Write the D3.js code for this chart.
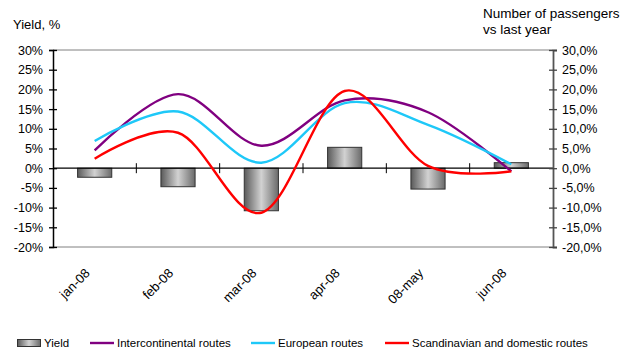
<!DOCTYPE html>
<html>
<head>
<meta charset="utf-8">
<script src="https://cdn.jsdelivr.net/npm/d3@7"></script>
<style>
  html, body { margin: 0; padding: 0; background: #fff; }
  svg { display: block; font-family: "Liberation Sans", Arial, sans-serif; }
</style>
</head>
<body>
<svg id="chart" width="624" height="353"></svg>
<script>
// Months on the x axis
const months = ["jan-08", "feb-08", "mar-08", "apr-08", "08-may", "jun-08"];
// Yield change, % (bars, left axis)
const yieldValues = [-2.3, -4.7, -10.8, 5.3, -5.3, 1.4];
// Passenger growth vs last year, % (lines, right axis)
const intercontinental = [4.5, 18.8, 5.7, 17.2, 14.2, -0.8];
const european = [6.9, 14.4, 1.4, 16.5, 11.0, 1.0];
const scandinavian = [2.4, 9.0, -11.3, 19.6, 0.6, -0.8];
// Axis ticks
const leftTicks = [30, 25, 20, 15, 10, 5, 0, -5, -10, -15, -20];
const rightTicks = [30, 25, 20, 15, 10, 5, 0, -5, -10, -15, -20];

const svg = d3.select("#chart");
const plotLeft = 53, plotRight = 553, plotTop = 50, plotBottom = 247;

const x = d3.scaleBand().domain(months).range([plotLeft, plotRight]).padding(0);
const yL = d3.scaleLinear().domain([-20, 30]).range([plotBottom, plotTop]);
const yR = d3.scaleLinear().domain([-20, 30]).range([plotBottom, plotTop]);

// Bar gradient: dark edges, light centre
const defs = svg.append("defs");
const grad = defs.append("linearGradient").attr("id", "barGrad")
  .attr("x1", "0%").attr("x2", "100%").attr("y1", "0%").attr("y2", "0%");
grad.append("stop").attr("offset", "0%").attr("stop-color", "#5a5a5a");
grad.append("stop").attr("offset", "50%").attr("stop-color", "#d2d2d2");
grad.append("stop").attr("offset", "100%").attr("stop-color", "#6a6a6a");

// Plot frame lines (top and bottom)
svg.append("line").attr("x1", plotLeft).attr("x2", plotRight).attr("y1", yL(30)).attr("y2", yL(30))
  .attr("stroke", "#808080").attr("stroke-width", 1);
svg.append("line").attr("x1", plotLeft).attr("x2", plotRight).attr("y1", yL(-20)).attr("y2", yL(-20))
  .attr("stroke", "#808080").attr("stroke-width", 1);

// Bars
const barW = x.bandwidth() * 0.41;
svg.append("g").selectAll("rect").data(yieldValues).join("rect")
  .attr("x", (d, i) => x(months[i]) + x.bandwidth() / 2 - barW / 2)
  .attr("y", d => yL(Math.max(0, d)))
  .attr("width", barW)
  .attr("height", d => Math.abs(yL(d) - yL(0)))
  .attr("fill", "url(#barGrad)")
  .attr("stroke", "#333")
  .attr("stroke-width", 1);

// Zero line with category separators
svg.append("line").attr("x1", plotLeft).attr("x2", plotRight).attr("y1", yL(0)).attr("y2", yL(0))
  .attr("stroke", "#000").attr("stroke-width", 1.3);
svg.append("g").selectAll("line").data(months.slice(1)).join("line")
  .attr("x1", d => x(d)).attr("x2", d => x(d))
  .attr("y1", yL(0) - 5).attr("y2", yL(0) + 5)
  .attr("stroke", "#000").attr("stroke-width", 1);

// Left axis
const axL = svg.append("g").attr("transform", `translate(${plotLeft},0)`)
  .call(d3.axisLeft(yL).tickValues(leftTicks).tickFormat(d => d + "%").tickSize(4).tickPadding(6));
axL.select(".domain").attr("stroke", "#000").attr("stroke-width", 1.5);
axL.selectAll(".tick line").attr("x1", -4).attr("x2", 4).attr("stroke", "#000").attr("stroke-width", 1.3);
axL.selectAll(".tick text").attr("font-size", 12.5).attr("fill", "#000")
  .attr("font-family", "Liberation Sans, Arial, sans-serif");

// Right axis
const fmtR = d => (d < 0 ? "-" : "") + Math.abs(d).toFixed(1).replace(".", ",") + "%";
const axR = svg.append("g").attr("transform", `translate(${plotRight},0)`)
  .call(d3.axisRight(yR).tickValues(rightTicks).tickFormat(fmtR).tickSize(4).tickPadding(5));
axR.select(".domain").attr("stroke", "#555").attr("stroke-width", 1.8);
axR.selectAll(".tick line").attr("x1", -4).attr("x2", 4).attr("stroke", "#444").attr("stroke-width", 1.3);
axR.selectAll(".tick text").attr("font-size", 12.5).attr("fill", "#000")
  .attr("font-family", "Liberation Sans, Arial, sans-serif");

// Smoothed passenger lines
const line = d3.line()
  .x((d, i) => x(months[i]) + x.bandwidth() / 2)
  .y(d => yR(d))
  .curve(d3.curveCardinal.tension(0));
const series = [
  { values: intercontinental, color: "#800080" },
  { values: european, color: "#1ec8f8" },
  { values: scandinavian, color: "#ff0000" }
];
svg.append("g").selectAll("path").data(series).join("path")
  .attr("d", d => line(d.values))
  .attr("fill", "none")
  .attr("stroke", d => d.color)
  .attr("stroke-width", 2.4)
  .attr("stroke-linejoin", "round");

// X labels, rotated
svg.append("g").selectAll("text").data(months).join("text")
  .attr("transform", d => `translate(${x(d) + x.bandwidth() / 2 - 4},${274}) rotate(-45)`)
  .attr("text-anchor", "end")
  .attr("font-size", 13)
  .attr("fill", "#000")
  .text(d => d);

// Axis titles
svg.append("text").attr("x", 13).attr("y", 29).attr("font-size", 13).attr("fill", "#000").text("Yield, %");
svg.append("text").attr("x", 483).attr("y", 18).attr("font-size", 13.5).attr("fill", "#000").text("Number of passengers");
svg.append("text").attr("x", 483).attr("y", 34).attr("font-size", 13.5).attr("fill", "#000").text("vs last year");

// Legend
const lg = svg.append("g").attr("font-size", 11.5).attr("fill", "#000");
lg.append("rect").attr("x", 17.5).attr("y", 339.5).attr("width", 23).attr("height", 7)
  .attr("fill", "url(#barGrad)").attr("stroke", "#333").attr("stroke-width", 1);
lg.append("text").attr("x", 44).attr("y", 347).text("Yield");
const legendLines = [
  { x: 90, color: "#800080", label: "Intercontinental routes" },
  { x: 251, color: "#1ec8f8", label: "European routes" },
  { x: 385, color: "#ff0000", label: "Scandinavian and domestic routes" }
];
legendLines.forEach(l => {
  lg.append("line").attr("x1", l.x).attr("x2", l.x + 24).attr("y1", 343).attr("y2", 343)
    .attr("stroke", l.color).attr("stroke-width", 2.4);
  lg.append("text").attr("x", l.x + 27).attr("y", 347).text(l.label);
});
</script>
</body>
</html>
